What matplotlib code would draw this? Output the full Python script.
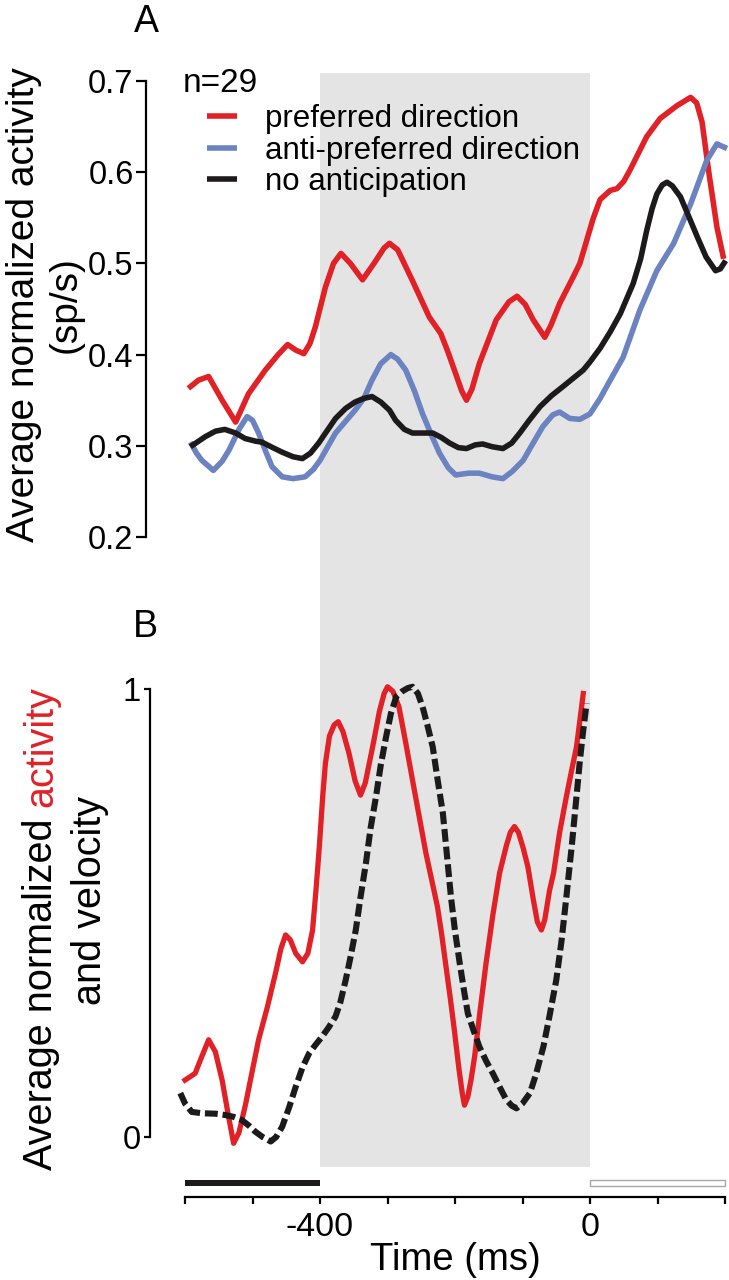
import matplotlib
matplotlib.use('Agg')
import matplotlib.pyplot as plt
from matplotlib.patches import Rectangle
from matplotlib.transforms import blended_transform_factory

plt.rcParams['font.family'] = ['Liberation Sans', 'DejaVu Sans']

# ---- panel A: average normalized activity (sp/s) ----
pref_t = [-595, -580, -565, -545, -525, -506, -481, -462, -448, -436, -424, -415, -407, -392, -380,
          -369, -355, -337, -320, -305, -297, -285, -263, -238, -221, -210, -199, -190, -183, -175,
          -164, -139, -120, -108, -96, -84, -67, -58, -45, -25, -15, -5, 5, 15, 30, 40, 50, 59, 84,
          104, 129, 149, 158, 166, 176, 188, 198]
pref_v = [0.363, 0.372, 0.376, 0.350, 0.326, 0.357, 0.383, 0.400, 0.411, 0.405, 0.401, 0.412, 0.430,
          0.474, 0.500, 0.511, 0.500, 0.482, 0.500, 0.517, 0.522, 0.515, 0.481, 0.441, 0.423, 0.402,
          0.379, 0.360, 0.350, 0.362, 0.390, 0.438, 0.458, 0.464, 0.455, 0.438, 0.419, 0.432, 0.456,
          0.485, 0.500, 0.525, 0.550, 0.570, 0.580, 0.582, 0.590, 0.602, 0.639, 0.659, 0.673, 0.682,
          0.676, 0.655, 0.600, 0.540, 0.505]

anti_t = [-592, -583, -575, -558, -545, -535, -520, -508, -500, -491, -480, -471, -456, -440, -422,
          -410, -400, -377, -348, -335, -323, -310, -295, -285, -273, -260, -248, -235, -223, -210,
          -199, -180, -164, -145, -129, -115, -99, -85, -70, -55, -45, -30, -15, 0, 15, 30, 49, 74,
          99, 124, 149, 173, 188, 203]
anti_v = [0.304, 0.292, 0.284, 0.273, 0.283, 0.295, 0.318, 0.332, 0.328, 0.314, 0.293, 0.277, 0.266,
          0.264, 0.266, 0.274, 0.284, 0.314, 0.339, 0.352, 0.372, 0.390, 0.400, 0.395, 0.383, 0.360,
          0.335, 0.312, 0.292, 0.276, 0.268, 0.270, 0.270, 0.266, 0.264, 0.272, 0.284, 0.302, 0.321,
          0.334, 0.337, 0.330, 0.329, 0.335, 0.352, 0.372, 0.397, 0.449, 0.492, 0.522, 0.565, 0.613,
          0.631, 0.626]

noant_t = [-592, -580, -570, -555, -541, -525, -511, -495, -486, -470, -456, -440, -426, -414, -402,
           -390, -377, -362, -348, -335, -323, -310, -297, -288, -275, -263, -248, -233, -220, -208,
           -195, -183, -170, -159, -145, -129, -116, -104, -90, -74, -57, -40, -25, -10, 0, 15, 30,
           45, 64, 75, 84, 92, 99, 107, 114, 122, 134, 146, 159, 172, 186, 193, 201]
noant_v = [0.299, 0.305, 0.310, 0.316, 0.318, 0.314, 0.308, 0.305, 0.304, 0.298, 0.293, 0.288, 0.286,
           0.292, 0.303, 0.316, 0.330, 0.341, 0.348, 0.352, 0.354, 0.348, 0.339, 0.328, 0.318, 0.314,
           0.314, 0.314, 0.309, 0.303, 0.298, 0.297, 0.301, 0.302, 0.299, 0.297, 0.303, 0.314, 0.328,
           0.343, 0.355, 0.365, 0.374, 0.383, 0.392, 0.407, 0.425, 0.445, 0.478, 0.505, 0.536, 0.560,
           0.576, 0.586, 0.589, 0.585, 0.573, 0.552, 0.529, 0.507, 0.492, 0.494, 0.503]

legend_labels = ['preferred direction', 'anti-preferred direction', 'no anticipation']
n_cells = 29

# ---- panel B: normalized activity and eye velocity ----
act_t = [-600, -592, -585, -575, -565, -555, -545, -536, -528, -520, -510, -500, -491, -478, -466,
         -458, -451, -444, -436, -426, -418, -411, -406, -401, -396, -392, -386, -379, -373, -366,
         -357, -348, -340, -333, -322, -312, -305, -300, -292, -283, -273, -263, -253, -243, -234,
         -226, -220, -214, -207, -201, -194, -189, -186, -181, -176, -171, -163, -154, -144, -134,
         -124, -118, -112, -106, -99, -92, -84, -78, -72, -67, -60, -54, -45, -35, -27, -20, -15, -10]
act_v = [0.127, 0.135, 0.142, 0.180, 0.217, 0.190, 0.127, 0.050, -0.014, 0.010, 0.075, 0.150, 0.217,
         0.290, 0.365, 0.420, 0.451, 0.440, 0.410, 0.391, 0.410, 0.462, 0.550, 0.648, 0.760, 0.834,
         0.895, 0.920, 0.927, 0.905, 0.856, 0.795, 0.763, 0.790, 0.871, 0.950, 0.990, 1.005, 0.995,
         0.960, 0.880, 0.797, 0.715, 0.633, 0.570, 0.514, 0.455, 0.388, 0.310, 0.239, 0.150, 0.095,
         0.071, 0.090, 0.130, 0.179, 0.280, 0.388, 0.495, 0.589, 0.650, 0.680, 0.693, 0.680, 0.645,
         0.603, 0.530, 0.480, 0.462, 0.485, 0.550, 0.589, 0.680, 0.760, 0.820, 0.871, 0.930, 0.990]

vel_t = [-607, -600, -590, -575, -555, -540, -528, -516, -505, -496, -485, -473, -465, -456, -446,
         -436, -426, -416, -407, -397, -387, -377, -370, -362, -355, -347, -340, -332, -325, -317,
         -310, -302, -295, -287, -278, -270, -263, -255, -248, -241, -233, -226, -218, -212, -206,
         -200, -193, -187, -181, -173, -164, -154, -144, -134, -124, -116, -109, -100, -89, -80, -69,
         -60, -50, -42, -35, -27, -20, -15, -10, -5]
vel_v = [0.098, 0.075, 0.056, 0.053, 0.052, 0.049, 0.045, 0.038, 0.025, 0.012, 0.000, -0.010, 0.000,
         0.023, 0.065, 0.112, 0.155, 0.187, 0.205, 0.224, 0.245, 0.269, 0.300, 0.350, 0.400, 0.462,
         0.535, 0.611, 0.690, 0.760, 0.830, 0.894, 0.945, 0.983, 0.995, 1.002, 1.005, 0.990, 0.960,
         0.920, 0.871, 0.800, 0.723, 0.630, 0.536, 0.460, 0.388, 0.330, 0.276, 0.240, 0.202, 0.170,
         0.142, 0.112, 0.083, 0.070, 0.064, 0.075, 0.098, 0.140, 0.202, 0.270, 0.350, 0.440, 0.536,
         0.650, 0.760, 0.840, 0.908, 0.968]

# epochs (ms)
window = (-400, 0)
fixation_bar = (-600, -400)
target_bar = (0, 200)
x_ticks = [-600, -500, -400, -300, -200, -100, 0, 100, 200]
x_labels = ['', '', '-400', '', '', '', '0', '', '']

RED = '#e12126'
BLUE = '#6b83c1'
BLACK = '#1c1a1a'
GRAY = '#e4e4e4'

W, H = 729, 1280
PT = 72 / 100  # points per pixel
fig = plt.figure(figsize=(W / 100, H / 100), dpi=100)


def add_axes_px(left, top, right, bottom):
    return fig.add_axes([left / W, 1 - bottom / H, (right - left) / W, (bottom - top) / H])


axA = add_axes_px(185, 81, 725, 537)
axB = add_axes_px(185, 689, 725, 1137)

for ax in (axA, axB):
    ax.set_facecolor('none')
    ax.set_xlim(-600, 200)
    for s in ('top', 'right'):
        ax.spines[s].set_visible(False)
    ax.spines['left'].set_linewidth(1.6)

# shaded window spanning both panels
blend = blended_transform_factory(axA.transData, fig.transFigure)
axA.add_patch(Rectangle((window[0], 1 - 1167 / H), window[1] - window[0], (1167 - 73) / H,
                        transform=blend, facecolor=GRAY, edgecolor='none', zorder=0, clip_on=False))

# panel A
lw = 4.0
hp, = axA.plot(pref_t, pref_v, color=RED, lw=lw, clip_on=False, solid_capstyle='butt')
ha, = axA.plot(anti_t, anti_v, color=BLUE, lw=lw, clip_on=False, solid_capstyle='butt')
hn, = axA.plot(noant_t, noant_v, color=BLACK, lw=lw, clip_on=False, solid_capstyle='butt')
axA.set_ylim(0.2, 0.7)
axA.spines['bottom'].set_visible(False)
axA.set_xticks([])
axA.spines['left'].set_position(('outward', 39 * PT))
axA.set_yticks([0.2, 0.3, 0.4, 0.5, 0.6, 0.7])
axA.set_yticklabels(['0.2', '0.3', '0.4', '0.5', '0.6', '0.7'])
axA.tick_params(axis='y', direction='out', length=7, width=1.6, labelsize=23.5, pad=2)

axA.legend([hp, ha, hn], legend_labels, loc='upper left',
           bbox_to_anchor=(22 / 540, (537 - 104) / 456), frameon=False, fontsize=22.5,
           handlelength=0.97, handletextpad=0.9, labelspacing=0.05, borderpad=0, borderaxespad=0)
axA.text(-2 / 540, (537 - 84) / 456, f'n={n_cells}', transform=axA.transAxes,
         ha='left', va='center', fontsize=24)

# panel B
axB.plot(act_t, act_v, color=RED, lw=3.8, clip_on=False)
axB.plot(vel_t, vel_v, color=BLACK, lw=4.4, ls=(0, (2.1, 0.8)), clip_on=False)
axB.set_ylim(0, 1)
axB.spines['left'].set_position(('outward', 35 * PT))
axB.spines['bottom'].set_position(('outward', 60 * PT))
axB.spines['bottom'].set_linewidth(1.6)
axB.set_yticks([0, 1])
axB.set_yticklabels(['0', '1'])
axB.tick_params(axis='y', direction='out', length=4.5, width=1.6, labelsize=23.5, pad=2)
axB.set_xticks(x_ticks)
axB.set_xticklabels(x_labels)
axB.tick_params(axis='x', direction='out', length=5, width=1.6, labelsize=24.5, pad=6)
axB.set_xlabel('Time (ms)', fontsize=27.5, labelpad=-1)

bar_y = -(1183 - 1137) / 448
bar_h = 6 / 448
axB.barh(bar_y, fixation_bar[1] - fixation_bar[0], left=fixation_bar[0], height=bar_h,
         color=BLACK, clip_on=False)
axB.barh(bar_y, target_bar[1] - target_bar[0], left=target_bar[0], height=bar_h,
         facecolor='white', edgecolor='#a8a8a8', linewidth=1, clip_on=False)

# panel letters
fig.text(146 / W, 1 - 22 / H, 'A', ha='center', va='center', fontsize=27)
fig.text(145 / W, 1 - 627 / H, 'B', ha='center', va='center', fontsize=27)

# y labels
fig.text(45 / W, 1 - 305 / H, 'Average normalized activity\n(sp/s)', rotation=90,
         ha='center', va='center', multialignment='center', fontsize=28, linespacing=1.22)

fs_b = 28.5
renderer = fig.canvas.get_renderer()
probe = fig.text(0, 0, 'Average normalized activity', rotation=90, fontsize=fs_b)
full_len = probe.get_window_extent(renderer).height
probe.remove()
yc = 928
base1 = 52
fig.text(base1 / W, 1 - (yc + full_len / 2) / H, 'Average normalized', rotation=90,
         rotation_mode='anchor', ha='left', va='baseline', fontsize=fs_b, color='black')
fig.text(base1 / W, 1 - (yc - full_len / 2) / H, 'activity', rotation=90,
         rotation_mode='anchor', ha='right', va='baseline', fontsize=fs_b, color=RED)
fig.text(101 / W, 1 - 900 / H, 'and velocity', rotation=90, rotation_mode='anchor',
         ha='center', va='baseline', fontsize=fs_b, color='black')

fig.savefig('out.png', dpi=100)
